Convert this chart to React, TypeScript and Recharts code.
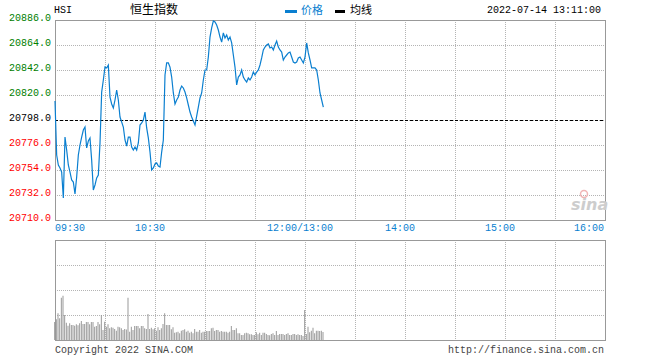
import { ComposedChart, BarChart, Line, Bar, XAxis, YAxis, CartesianGrid, ReferenceLine, ReferenceArea } from 'recharts';

// previous close, used for the zero line and the percent axis
const prevClose = 20798;

const priceTicks = [20710, 20732, 20754, 20776, 20798, 20820, 20842, 20864, 20886];
const timeTicks = [0, 30, 60, 90, 120, 150, 180, 210, 240, 270, 300, 330];
const timeLabels: Record<number, string> = {
    0: '09:30', 60: '10:30', 150: '12:00/13:00', 210: '14:00', 270: '15:00', 330: '16:00',
};
const volTicks = [0, 25, 50, 75, 100];

// one value per minute from 09:30 (12:00 and 13:00 share a slot)
const prices = [
    20814.7, 20767.2, 20758.4, 20755.8, 20752.2, 20729.4, 20783.0, 20771.6, 20758.4, 20752.2,
    20745.2, 20743.4, 20732.9, 20747.8, 20767.2, 20776.0, 20783.0, 20789.2, 20791.8, 20773.4,
    20779.5, 20782.2, 20762.8, 20736.4, 20740.8, 20747.0, 20749.6, 20777.8, 20822.6, 20833.2,
    20844.6, 20843.8, 20846.4, 20818.2, 20812.1, 20808.6, 20815.6, 20824.4, 20815.6, 20800.6,
    20796.2, 20791.8, 20780.4, 20775.1, 20783.0, 20783.0, 20774.2, 20771.6, 20774.2, 20771.6,
    20777.8, 20793.6, 20795.4, 20798.0, 20805.0, 20791.0, 20782.2, 20769.8, 20754.0, 20755.8,
    20759.3, 20760.2, 20757.5, 20756.6, 20769.8, 20780.4, 20837.6, 20848.2, 20848.2, 20844.6,
    20835.8, 20821.8, 20812.1, 20815.6, 20818.2, 20824.4, 20827.9, 20826.2, 20822.6, 20817.4,
    20811.2, 20805.0, 20800.6, 20797.1, 20793.6, 20801.5, 20809.4, 20817.4, 20821.8, 20833.2,
    20842.0, 20842.0, 20853.4, 20871.0, 20879.0, 20885.1, 20884.2, 20881.6, 20877.2, 20871.0,
    20866.6, 20874.6, 20870.2, 20872.8, 20868.4, 20871.0, 20865.8, 20855.2, 20844.6, 20828.8,
    20835.8, 20837.6, 20842.0, 20835.8, 20833.2, 20831.4, 20835.0, 20833.2, 20835.8, 20840.2,
    20837.6, 20840.2, 20842.0, 20846.4, 20852.6, 20859.6, 20862.2, 20864.0, 20864.9, 20861.4,
    20862.2, 20859.6, 20864.0, 20867.5, 20862.2, 20859.6, 20857.8, 20850.8, 20853.4, 20855.2,
    20857.0, 20857.8, 20853.4, 20849.0, 20848.2, 20849.0, 20852.6, 20853.4, 20850.8, 20848.2,
    20853.4, 20865.8, 20857.0, 20850.8, 20843.8, 20843.8, 20843.8, 20842.0, 20833.2, 20821.8,
    20815.6, 20809.4,
];

const volumes = [
    18, 20.7, 26.7, 21.7, 42.3, 44.3, 25, 17.3, 14.3, 16.7,
    15, 15, 14.3, 15.7, 14.7, 16.7, 19, 16, 16, 18,
    18, 15.7, 18, 18, 13.3, 14, 18, 15.7, 25, 10,
    18.3, 13.3, 15.7, 11.7, 12.7, 12.3, 11, 9.3, 13.3, 12.7,
    11.7, 10, 11, 10.5, 42.3, 8.3, 13.3, 10, 14, 14,
    14, 11.7, 14, 14, 11.7, 11, 26, 11, 12.3, 10.7,
    11.7, 9.3, 12.7, 10, 11.7, 16, 26.7, 15, 15, 15,
    10.7, 12.7, 7.3, 7.7, 8.3, 6.7, 9.3, 10, 10.7, 8.3,
    9.3, 7.3, 8.3, 6.7, 11, 8.3, 8.3, 10, 7.3, 8.3,
    8.3, 9, 9, 9, 11.7, 12.3, 9, 10, 10, 8.3,
    9, 8.3, 8.3, 8.3, 7.3, 8.3, 14, 10, 10, 11.7,
    6.7, 6.7, 5, 5, 6.7, 7.3, 6.7, 5.7, 5.7, 5,
    5, 7.7, 5.7, 7.3, 5, 7.3, 7.3, 6, 5, 4.7,
    6, 6.7, 5, 9, 5, 6, 6, 6, 5, 6,
    6.7, 5, 5, 6, 6, 5, 5.7, 5, 5, 4,
    30, 6, 13.3, 7.7, 9.3, 12.3, 6.7, 9.3, 9.3, 9,
    9.3, 8,
];

const data = prices.map((p, i) => ({ t: i, price: p, vol: volumes[i] }));

const MONO = '"Liberation Mono", "DejaVu Sans Mono", monospace';
const CJK = '"Noto Sans CJK SC", sans-serif';
const GREEN = '#008000';
const RED = '#ff0000';
const BLUE = '#0a7fd0';
const GRID = '#b4b4b4';
const BORDER = '#999';

const tickColor = (v: number) => (v > prevClose ? GREEN : v < prevClose ? RED : '#000');

const LeftTick = ({ y, payload }: any) => (
    <text x={51} y={y + 1} textAnchor="end" fill={tickColor(payload.value)} fontSize={10} fontFamily={MONO}>
        {payload.value.toFixed(1)}
    </text>
);

const RightTick = ({ y, payload }: any) => {
    const pct = ((payload.value - prevClose) / prevClose) * 100;
    const label = (pct > 0.001 ? '+' : '') + pct.toFixed(2) + '%';
    return (
        <text x={643} y={y + 1} textAnchor="end" fill={tickColor(payload.value)} fontSize={10} fontFamily={MONO}>
            {label}
        </text>
    );
};

const TimeTick = ({ x, payload }: any) => {
    const label = timeLabels[payload.value];
    if (!label) return <g />;
    let anchor: 'start' | 'middle' | 'end' = 'middle';
    let tx = x - 5;
    if (payload.value === 0) { anchor = 'start'; tx = x; }
    if (payload.value === 330) { anchor = 'end'; tx = x - 1; }
    return (
        <text x={tx} y={231} textAnchor={anchor} fill={BLUE} fontSize={10} fontFamily={MONO}>
            {label}
        </text>
    );
};

export default function App() {
    return (
        <div style={{ position: 'absolute', left: 0, top: 0, width: 660, height: 360, background: '#fff' }}>
            <div style={{ position: 'absolute', left: 0, top: 0 }}>
                <ComposedChart width={660} height={240} data={data} margin={{ top: 20, right: 0, left: 0, bottom: 0 }}>
                    <XAxis
                        dataKey="t"
                        type="number"
                        domain={[0, 330]}
                        ticks={timeTicks}
                        interval={0}
                        tick={<TimeTick />}
                        tickLine={false}
                        axisLine={false}
                        height={20}
                    />
                    <YAxis
                        yAxisId="price"
                        domain={[20710, 20886]}
                        ticks={priceTicks}
                        interval={0}
                        tick={<LeftTick />}
                        tickLine={false}
                        axisLine={false}
                        width={55}
                    />
                    <YAxis
                        yAxisId="pct"
                        orientation="right"
                        domain={[20710, 20886]}
                        ticks={priceTicks}
                        interval={0}
                        tick={<RightTick />}
                        tickLine={false}
                        axisLine={false}
                        width={55}
                    />
                    <CartesianGrid yAxisId="price" stroke={GRID} strokeDasharray="1 1" shapeRendering="crispEdges" />
                    <ReferenceLine yAxisId="price" y={prevClose} stroke="#000" strokeDasharray="3 2" shapeRendering="crispEdges" />
                    <ReferenceArea
                        yAxisId="price"
                        x1={0}
                        x2={330}
                        y1={20710}
                        y2={20886}
                        stroke={BORDER}
                        fill="none"
                        fillOpacity={0}
                        strokeOpacity={1}
                        shapeRendering="crispEdges"
                    />
                    <Line
                        yAxisId="price"
                        type="linear"
                        dataKey="price"
                        stroke={BLUE}
                        strokeWidth={1.2}
                        dot={false}
                        isAnimationActive={false}
                    />
                </ComposedChart>
            </div>

            <div style={{ position: 'absolute', left: 0, top: 230 }}>
                <BarChart width={660} height={111} data={data} margin={{ top: 10, right: 55, left: 55, bottom: 1 }}>
                    <XAxis dataKey="t" type="number" domain={[0, 330]} ticks={timeTicks} interval={0} hide />
                    <YAxis domain={[0, 100]} ticks={volTicks} interval={0} hide />
                    <CartesianGrid stroke={GRID} strokeDasharray="1 1" shapeRendering="crispEdges" />
                    <ReferenceArea
                        x1={0}
                        x2={330}
                        y1={0}
                        y2={100}
                        stroke={BORDER}
                        fill="none"
                        fillOpacity={0}
                        strokeOpacity={1}
                        shapeRendering="crispEdges"
                    />
                    <Bar dataKey="vol" fill="#999" barSize={1} isAnimationActive={false} />
                </BarChart>
            </div>

            <svg width={660} height={360} style={{ position: 'absolute', left: 0, top: 0, pointerEvents: 'none' }}>
                <text x={54} y={13} fontSize={10} fontFamily={MONO} fill="#000">HSI</text>
                <text x={130} y={14} fontSize={12} fontFamily={CJK} fill="#000">恒生指数</text>
                <rect x={285} y={10} width={12} height={3} fill={BLUE} />
                <text x={301} y={14} fontSize={11} fontFamily={CJK} fill={BLUE}>价格</text>
                <rect x={335} y={10} width={10} height={3} fill="#000" />
                <text x={350} y={14} fontSize={11} fontFamily={CJK} fill="#000">均线</text>
                <text x={601} y={13} textAnchor="end" fontSize={10} fontFamily={MONO} fill="#000">2022-07-14 13:11:00</text>

                <circle cx={584} cy={194} r={3.5} fill="none" stroke="#f0b4b4" strokeWidth={1.5} />
                <text x={571} y={210} fontSize={16} fontStyle="italic" fontWeight="bold" fontFamily='"DejaVu Sans", sans-serif' fill="#cdcdcd">sina</text>

                <text x={55} y={353} fontSize={10} fontFamily={MONO} fill="#444">Copyright 2022 SINA.COM</text>
                <text x={604} y={353} textAnchor="end" fontSize={10} fontFamily={MONO} fill="#444">http://finance.sina.com.cn</text>
            </svg>
        </div>
    );
}
